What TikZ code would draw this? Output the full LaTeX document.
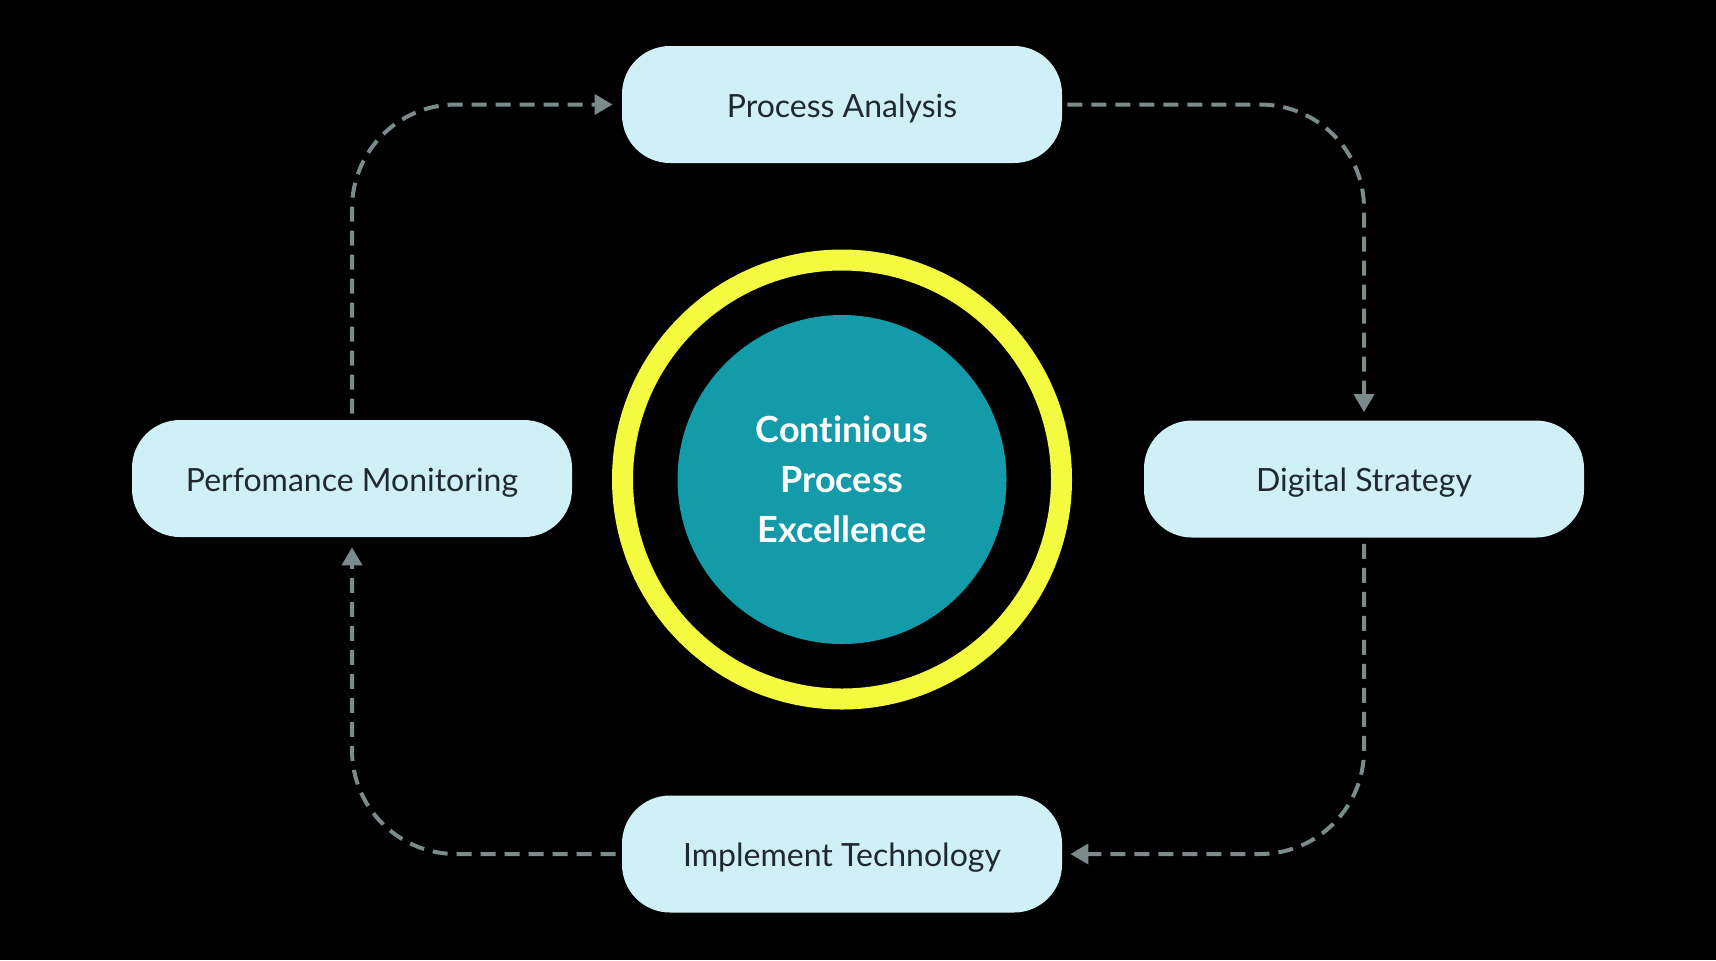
\documentclass[tikz,border=0pt]{standalone}
\usepackage{fontspec}
\setmainfont{Lato}[Ligatures=NoCommon]
\usetikzlibrary{arrows.meta}

\definecolor{boxfill}{HTML}{D0F0F7}
\definecolor{boxtext}{HTML}{1E2A30}
\definecolor{coreteal}{HTML}{139BAA}
\definecolor{ringyellow}{HTML}{F4FA40}
\definecolor{flowgray}{HTML}{7B8A8B}

\tikzset{
    stage/.style={fill=boxfill,
        rounded corners=24pt,
        minimum width=220pt,
        minimum height=58.5pt,
        text height=12.5pt,
        text depth=0pt,
        text=boxtext,
        font=\fontsize{16}{19}\selectfont},
    flow/.style={draw=flowgray,
        line width=2pt,
        dash pattern=on 7.5pt off 4.5pt,
        rounded corners=52pt,
        -{Triangle[width=10pt,length=9pt]}}
}

\begin{document}
\begin{tikzpicture}[x=0.5pt,y=-0.5pt]

    % Background
    \fill[black] (0,0) rectangle (1716,960);
    \useasboundingbox (0,0) rectangle (1716,960);

    % Center rings
    \node[draw=ringyellow,
        line width=10.5pt,
        circle,
        minimum size=219.5pt] (ring) at (842,479.5){};

    \node[fill=coreteal,
        circle,
        minimum size=164.5pt,
        text=white,
        align=center,
        font=\bfseries\fontsize{18}{25}\selectfont] (core) at (842,479.5){Continious\\Process\\Excellence};

    % Stages
    \node[stage] (pa) at (842,104.5){Process Analysis};
    \node[stage] (ds) at (1364,479){Digital Strategy};
    \node[stage] (it) at (842,854){Implement Technology};
    \node[stage] (pm) at (352,478.5){Perfomance Monitoring};

    % Cycle
    \draw[flow] ([xshift=2.5pt]pa.east) -| ([yshift=4pt]ds.north);
    \draw[flow] ([yshift=-3pt]ds.south) |- ([xshift=4pt]it.east);
    \draw[flow] ([xshift=-3pt]it.west) -| ([yshift=-5pt]pm.south);
    \draw[flow] ([yshift=3pt]pm.north) |- ([xshift=-4.5pt]pa.west);

\end{tikzpicture}
\end{document}
